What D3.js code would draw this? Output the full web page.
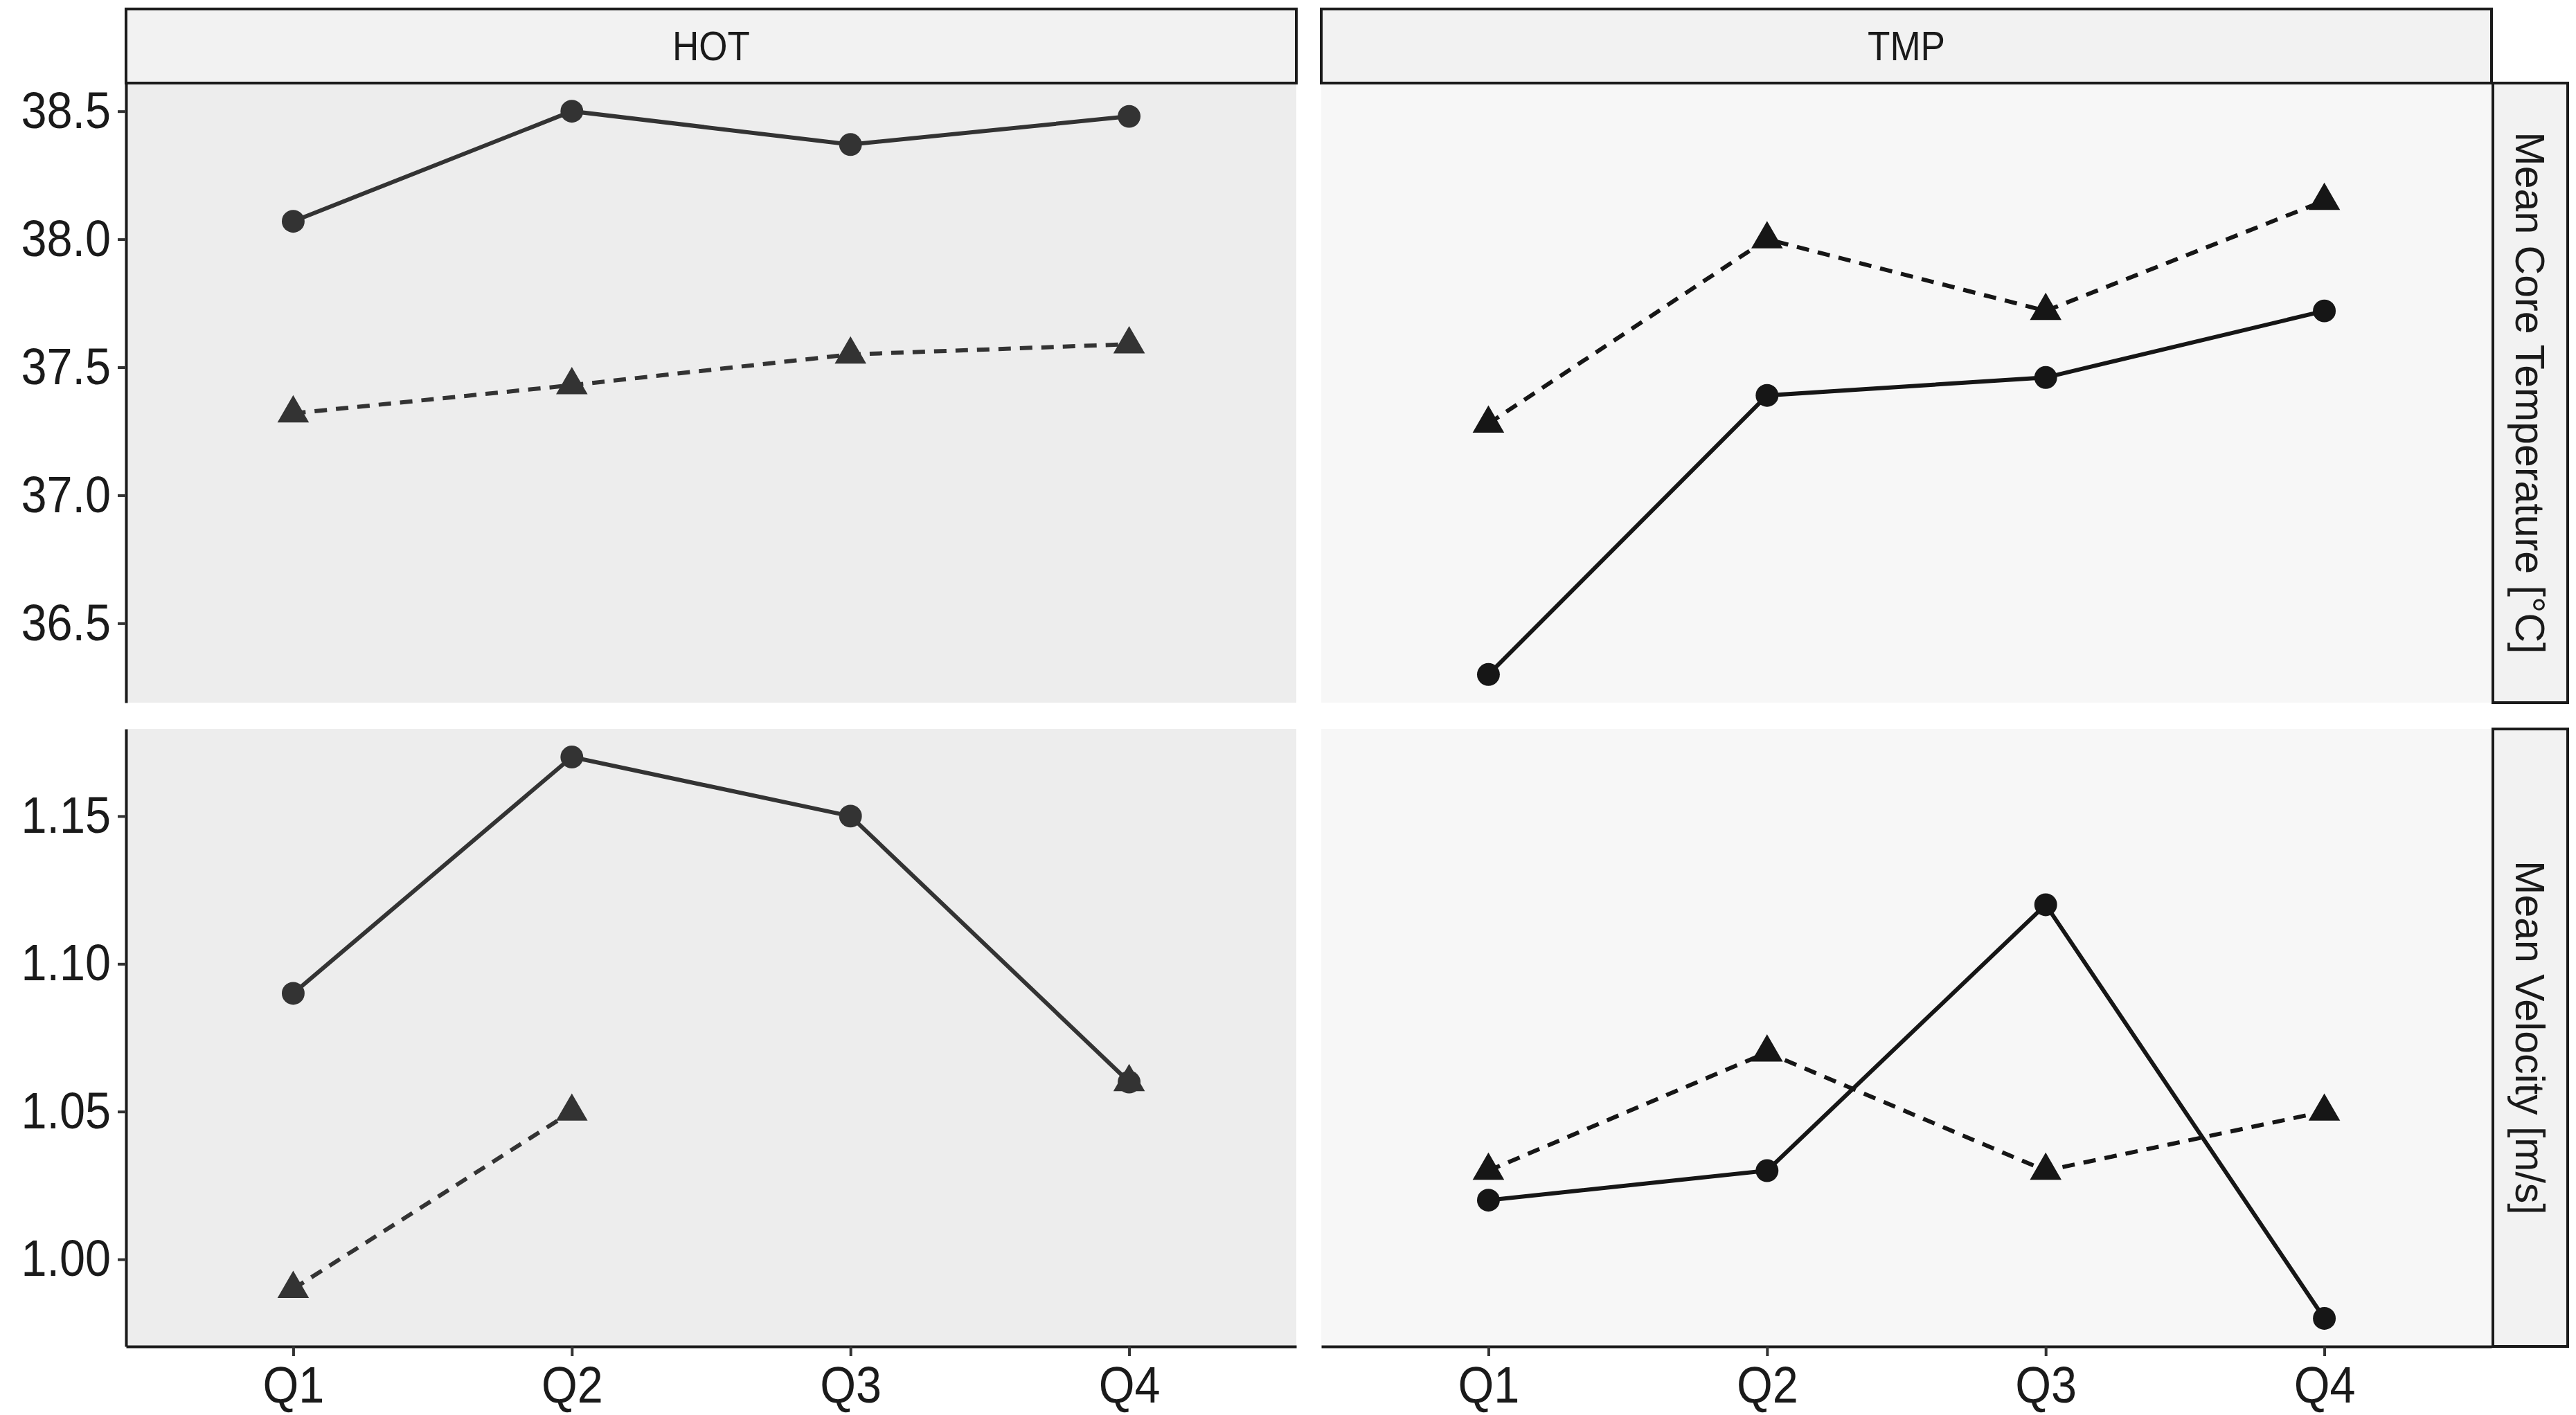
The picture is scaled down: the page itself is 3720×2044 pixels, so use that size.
<!DOCTYPE html>
<html>
<head>
<meta charset="utf-8">
<script src="https://cdn.jsdelivr.net/npm/d3@7"></script>
<style>
	body { margin: 0; background: #ffffff; }
	text { font-family: "Liberation Sans", Arial, sans-serif; }
</style>
</head>
<body>
<svg></svg>
<script>
// categories and facets
var quarters = ["Q1", "Q2", "Q3", "Q4"];
var groups = ["HOT", "TMP"];
var measures = ["Mean Core Temperature [°C]", "Mean Velocity [m/s]"];

// tick labels
var tempTicks = [36.5, 37.0, 37.5, 38.0, 38.5];
var velTicks = [1.00, 1.05, 1.10, 1.15];

// series values (solid line + circles, dashed line + triangles)
var hotTempSolid = [38.07, 38.50, 38.37, 38.48];
var hotTempDashed = [37.32, 37.43, 37.55, 37.59];
var tmpTempSolid = [36.30, 37.39, 37.46, 37.72];
var tmpTempDashed = [37.28, 38.00, 37.72, 38.15];
var hotVelSolid = [1.09, 1.17, 1.15, 1.06];
var hotVelDashed = [0.99, 1.05, null, 1.06];
var tmpVelSolid = [1.02, 1.03, 1.12, 0.98];
var tmpVelDashed = [1.03, 1.07, 1.03, 1.05];

var svgWidth = 3720, svgHeight = 2044;
var colLeft = [182, 1908], colWidth = 1690;
var rowTop = [120, 1053], rowHeight = [895, 892];
var stripTop = 13, stripRight = 3600, stripWidth = 108;

var panelBg = {"HOT": "#ededed", "TMP": "#f7f7f7"};
var inkColor = {"HOT": "#333333", "TMP": "#161616"};

var svg = d3.select("svg")
	.attr("width", svgWidth)
	.attr("height", svgHeight);

var rows = [
	{ticks: tempTicks, fmt: d3.format(".1f"),
		series: {"HOT": [hotTempSolid, hotTempDashed], "TMP": [tmpTempSolid, tmpTempDashed]}},
	{ticks: velTicks, fmt: d3.format(".2f"),
		series: {"HOT": [hotVelSolid, hotVelDashed], "TMP": [tmpVelSolid, tmpVelDashed]}}
];

rows.forEach(function(row, r) {
	// free y scale per row, with ggplot style 5% expansion
	var all = [];
	groups.forEach(function(g) {
		row.series[g].forEach(function(s) {
			s.forEach(function(v) { if (v != null) all.push(v); });
		});
	});
	var lo = d3.min(all), hi = d3.max(all), pad = (hi - lo) * 0.05;
	var yScale = d3.scaleLinear()
		.domain([lo - pad, hi + pad])
		.range([rowTop[r] + rowHeight[r], rowTop[r]]);

	groups.forEach(function(g, c) {
		var xScale = d3.scalePoint()
			.domain(quarters)
			.range([colLeft[c], colLeft[c] + colWidth])
			.padding(0.6);
		drawPanel(g, c, r, row.series[g], xScale, yScale);

		// x axis only under the bottom row
		if (r === rows.length - 1) {
			var xAxis = svg.append("g")
				.attr("class", "axis")
				.attr("transform", "translate(0," + (rowTop[r] + rowHeight[r]) + ")")
				.call(d3.axisBottom(xScale).tickSize(14).tickSizeOuter(0).tickPadding(14));
			styleAxis(xAxis);
			xAxis.selectAll(".tick text")
				.attr("dy", "0.72em")
				.attr("transform", "scale(0.9,1)");
		}
	});

	// y axis on the left column
	var yAxis = svg.append("g")
		.attr("class", "axis")
		.attr("transform", "translate(" + colLeft[0] + ",0)")
		.call(d3.axisLeft(yScale).tickValues(row.ticks).tickFormat(row.fmt).tickSize(12).tickSizeOuter(0).tickPadding(10));
	styleAxis(yAxis);
	yAxis.selectAll(".tick text")
		.attr("x", 0)
		.attr("transform", "translate(-22,0) scale(0.9,1)");

	// strip on the right
	var sx = stripRight, sy = rowTop[r];
	svg.append("rect")
		.attr("x", sx).attr("y", sy)
		.attr("width", stripWidth).attr("height", rowHeight[r])
		.attr("fill", "#f2f2f2")
		.attr("stroke", "#1a1a1a")
		.attr("stroke-width", 4);
	svg.append("text")
		.attr("transform", "translate(" + (sx + stripWidth / 2) + "," + (sy + rowHeight[r] / 2) + ") rotate(90)")
		.attr("text-anchor", "middle")
		.attr("dy", "0.35em")
		.attr("font-size", 59)
		.attr("fill", "#1a1a1a")
		.text(measures[r]);
});

// strips on top
groups.forEach(function(g, c) {
	svg.append("rect")
		.attr("x", colLeft[c]).attr("y", stripTop)
		.attr("width", colWidth).attr("height", rowTop[0] - stripTop)
		.attr("fill", "#f2f2f2")
		.attr("stroke", "#1a1a1a")
		.attr("stroke-width", 4);
	svg.append("text")
		.attr("transform", "translate(" + (colLeft[c] + colWidth / 2) + "," + ((stripTop + rowTop[0]) / 2) + ") scale(0.9,1)")
		.attr("text-anchor", "middle")
		.attr("dy", "0.35em")
		.attr("font-size", 59)
		.attr("fill", "#1a1a1a")
		.text(g);
});

// This function draws one facet panel: background, two lines and points
function drawPanel(g, c, r, series, xScale, yScale) {
	var panel = svg.append("g").attr("class", "panel");
	panel.append("rect")
		.attr("x", colLeft[c]).attr("y", rowTop[r])
		.attr("width", colWidth).attr("height", rowHeight[r])
		.attr("fill", panelBg[g]);

	var line = d3.line()
		.defined(function(d) { return d != null; })
		.x(function(d, i) { return xScale(quarters[i]); })
		.y(function(d) { return yScale(d); });

	series.forEach(function(values, s) {
		panel.append("path")
			.datum(values)
			.attr("fill", "none")
			.attr("stroke", inkColor[g])
			.attr("stroke-width", 6)
			.attr("stroke-dasharray", s === 1 ? "18,13" : null)
			.attr("d", line);
	});

	series.forEach(function(values, s) {
		var sym = d3.symbol()
			.type(s === 0 ? d3.symbolCircle : d3.symbolTriangle)
			.size(s === 0 ? 850 : 900);
		panel.selectAll(null)
			.data(values.map(function(v, i) { return {q: quarters[i], v: v}; })
				.filter(function(d) { return d.v != null; }))
			.enter()
			.append("path")
			.attr("transform", function(d) {
				return "translate(" + xScale(d.q) + "," + yScale(d.v) + ")";
			})
			.attr("fill", inkColor[g])
			.attr("d", sym);
	});
}

// This function gives an axis the ggplot look
function styleAxis(axis) {
	axis.select(".domain").attr("stroke", "#1a1a1a").attr("stroke-width", 4);
	axis.selectAll(".tick line").attr("stroke", "#333333").attr("stroke-width", 4);
	axis.selectAll(".tick text")
		.attr("font-size", 74)
		.attr("fill", "#1a1a1a")
		.attr("font-family", "Liberation Sans, Arial, sans-serif");
}
</script>
</body>
</html>
